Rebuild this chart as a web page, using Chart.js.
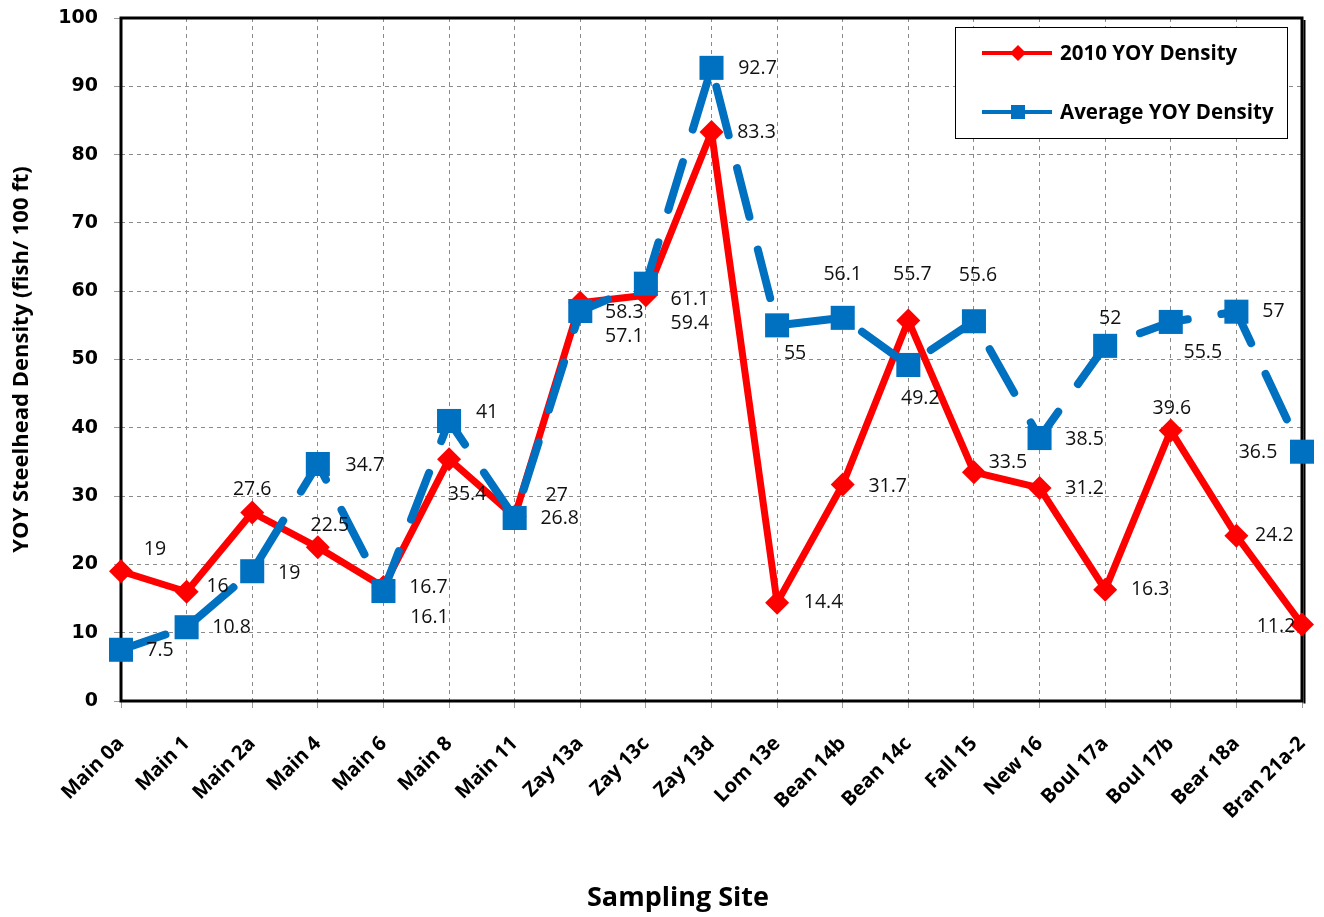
<!DOCTYPE html>
<html lang="en">
<head>
<meta charset="utf-8"/>
<title>YOY Steelhead Density by Sampling Site</title>
<script src="https://cdn.jsdelivr.net/npm/chart.js@4/dist/chart.umd.min.js"></script>
<style>
  html, body { margin: 0; padding: 0; background: #fff; }
  #wrap { width: 1324px; height: 917px; position: relative; }
</style>
</head>
<body>
<div id="wrap"><canvas id="myChart"></canvas></div>
<script>
  const sites = ["Main 0a", "Main 1", "Main 2a", "Main 4", "Main 6", "Main 8", "Main 11",
    "Zay 13a", "Zay 13c", "Zay 13d", "Lom 13e", "Bean 14b", "Bean 14c", "Fall 15",
    "New 16", "Boul 17a", "Boul 17b", "Bear 18a", "Bran 21a-2"];
  const density2010 = [19, 16, 27.6, 22.5, 16.7, 35.4, 27, 58.3, 59.4, 83.3, 14.4, 31.7,
    55.7, 33.5, 31.2, 16.3, 39.6, 24.2, 11.2];
  const densityAvg = [7.5, 10.8, 19, 34.7, 16.1, 41, 26.8, 57.1, 61.1, 92.7, 55, 56.1,
    49.2, 55.6, 38.5, 52, 55.5, 57, 36.5];
  const yTicks = [0, 10, 20, 30, 40, 50, 60, 70, 80, 90, 100];

  // where each value label sits relative to its point, in px (hand placed like the original)
  const nudge2010 = [[34, -22], [31, -5], [0, -23], [12, -22], [45, 0], [18, 35], [42, -21],
    [44, 10], [44, 28], [45, 0], [46, 0], [45, 2], [4, -46], [34, -10], [45, 1], [45, 0],
    [1, -22], [38, 0], [-26, 2]];
  const nudgeAvg = [[39, 1], [45, 0], [37, 2], [47, 1], [46, 26], [38, -9], [45, 0], [44, 25],
    [44, 16], [46, 1], [18, 28], [0, -43], [12, 33], [4, -46], [45, 1], [5, -27], [32, 31],
    [37, 0], [-44, 1]];

  const RED = "#ff0000";
  const BLUE = "#0070c0";

  // black frame round the plot area, drawn under the lines
  const plotFrame = {
    id: "plotFrame",
    beforeDatasetsDraw(chart) {
      const { ctx, chartArea: a } = chart;
      ctx.save();
      ctx.strokeStyle = "#000";
      ctx.lineWidth = 3;
      ctx.strokeRect(a.left, a.top, a.right - a.left, a.bottom - a.top);
      ctx.lineWidth = 2;
      ctx.beginPath();
      ctx.moveTo(a.right + 2.5, a.top + 2);
      ctx.lineTo(a.right + 2.5, a.bottom + 2.5);
      ctx.stroke();
      ctx.restore();
    }
  };

  const valueLabels = {
    id: "valueLabels",
    afterDatasetsDraw(chart) {
      const { ctx } = chart;
      const nudges = [nudge2010, nudgeAvg];
      ctx.save();
      ctx.font = "19.5px 'Open Sans'";
      ctx.fillStyle = "#111";
      ctx.textAlign = "center";
      ctx.textBaseline = "middle";
      chart.data.datasets.forEach((ds, di) => {
        chart.getDatasetMeta(di).data.forEach((pt, i) => {
          const n = nudges[di][i];
          ctx.fillText(String(ds.data[i]), pt.x + n[0], pt.y + n[1]);
        });
      });
      ctx.restore();
    }
  };

  const boxLegend = {
    id: "boxLegend",
    afterDraw(chart) {
      const { ctx, chartArea: a } = chart;
      const x = a.right - 347, y = a.top + 9, w = 332, h = 111;
      ctx.save();
      ctx.fillStyle = "#fff";
      ctx.fillRect(x, y, w, h);
      ctx.strokeStyle = "#000";
      ctx.lineWidth = 1;
      ctx.strokeRect(x + 0.5, y + 0.5, w, h);
      chart.data.datasets.forEach((ds, i) => {
        const ly = y + 26 + i * 59;
        ctx.strokeStyle = ds.borderColor;
        ctx.lineWidth = 4;
        ctx.beginPath();
        ctx.moveTo(x + 27, ly);
        ctx.lineTo(x + 97, ly);
        ctx.stroke();
        ctx.fillStyle = ds.borderColor;
        if (ds.pointStyle === "rectRot") {
          ctx.beginPath();
          ctx.moveTo(x + 63, ly - 8);
          ctx.lineTo(x + 71, ly);
          ctx.lineTo(x + 63, ly + 8);
          ctx.lineTo(x + 55, ly);
          ctx.closePath();
          ctx.fill();
        } else {
          ctx.fillRect(x + 56, ly - 7, 14, 14);
        }
        ctx.fillStyle = "#000";
        ctx.font = "bold 20.5px 'Open Sans'";
        ctx.textBaseline = "middle";
        ctx.fillText(ds.label, x + 105, ly + 1);
      });
      // x axis title sits a little left of the plot centre, as in the original
      ctx.font = "bold 27px 'Open Sans'";
      ctx.textAlign = "center";
      ctx.textBaseline = "alphabetic";
      ctx.fillText("Sampling Site", 678, 906);
      ctx.restore();
    }
  };

  new Chart(document.getElementById("myChart"), {
    type: "line",
    data: {
      labels: sites,
      datasets: [
        {
          label: "2010 YOY Density",
          data: density2010,
          borderColor: RED,
          backgroundColor: RED,
          borderWidth: 7,
          borderJoinStyle: "round",
          pointStyle: "rectRot",
          pointRadius: 12,
          pointBorderWidth: 0,
          tension: 0,
          order: 2
        },
        {
          label: "Average YOY Density",
          data: densityAvg,
          borderColor: BLUE,
          backgroundColor: BLUE,
          borderWidth: 8,
          borderDash: [50, 34],
          borderDashOffset: 3,
          borderCapStyle: "round",
          borderJoinStyle: "round",
          pointStyle: "rect",
          pointRadius: 17,
          pointBorderWidth: 0,
          tension: 0,
          order: 1
        }
      ]
    },
    options: {
      responsive: true,
      maintainAspectRatio: false,
      animation: false,
      layout: { padding: { left: 0, right: 22, top: 18, bottom: 0 } },
      plugins: {
        legend: { display: false },
        tooltip: { enabled: false }
      },
      scales: {
        x: {
          offset: false,
          grid: {
            offset: false,
            color: "#8a8a8a",
            lineWidth: 1,
            tickLength: 7,
            tickColor: "#999",
            tickBorderDash: []
          },
          border: { display: false, dash: [4, 4] },
          ticks: {
            autoSkip: false,
            minRotation: 45,
            maxRotation: 45,
            padding: 24,
            color: "#000",
            font: { family: "'Open Sans'", weight: "bold", size: 20 }
          },
          afterFit(scale) {
            scale.height = 216;
            scale.paddingLeft = 0;
            scale.paddingRight = 0;
          }
        },
        y: {
          min: 0,
          max: 100,
          afterBuildTicks(scale) { scale.ticks = yTicks.map(v => ({ value: v })); },
          grid: {
            color: ctx => (ctx.tick && ctx.tick.value === 0) ? "rgba(0,0,0,0)" : "#8a8a8a",
            lineWidth: 1,
            tickLength: 7,
            tickColor: "#999",
            tickBorderDash: []
          },
          border: { display: false, dash: [4, 4] },
          ticks: {
            padding: 16,
            color: "#000",
            font: { family: "'DejaVu Sans'", weight: "bold", size: 19 }
          },
          title: {
            display: true,
            text: "YOY Steelhead Density (fish/ 100 ft)",
            color: "#000",
            font: { family: "'Open Sans'", weight: "bold", size: 22 },
            padding: { top: 9, bottom: 0 }
          },
          afterFit(scale) {
            scale.width = 121;
            scale.paddingTop = 0;
            scale.paddingBottom = 0;
          }
        }
      }
    },
    plugins: [plotFrame, valueLabels, boxLegend]
  });
</script>
</body>
</html>
